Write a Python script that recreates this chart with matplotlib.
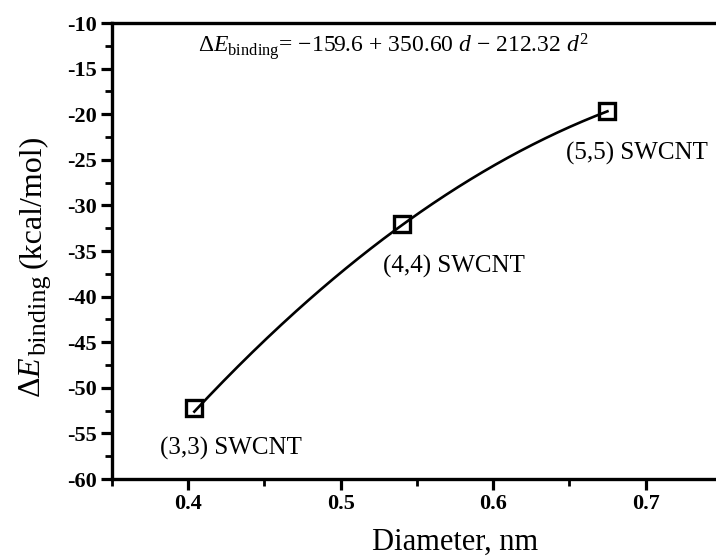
import numpy as np
import matplotlib
matplotlib.use("Agg")
import matplotlib.pyplot as plt
from matplotlib.ticker import MultipleLocator

# data
diameter = [0.404, 0.540, 0.675]          # nm
e_binding = [-52.2, -32.0, -19.6]         # kcal/mol
tube_names = ["(3,3) SWCNT", "(4,4) SWCNT", "(5,5) SWCNT"]
fit_coef = [-212.32, 350.60, -159.6]      # quadratic shown in the figure
x_ticks = [0.4, 0.5, 0.6, 0.7]
y_ticks = list(range(-60, -9, 5))

plt.rcParams["font.family"] = ["Liberation Serif", "DejaVu Serif"]
plt.rcParams["mathtext.fontset"] = "custom"
plt.rcParams["mathtext.rm"] = "Liberation Serif"
plt.rcParams["mathtext.it"] = "Liberation Serif:italic"

W, H = 716, 560


def main():
    fig = plt.figure(figsize=(W / 100, H / 100), dpi=100)
    ax = fig.add_axes([112 / W, 1 - 479 / H, (798 - 112) / W, (479 - 23) / H])

    d = np.linspace(diameter[0], diameter[-1], 200)
    ax.plot(d, np.polyval(fit_coef, d), color="black", lw=1.9)
    ax.plot(diameter, e_binding, ls="none", marker="s", ms=11.5, mfc="none",
            mec="black", mew=2.4)

    ax.text(0.3814, -56.6, tube_names[0], fontsize=18, ha="left", va="center")
    ax.text(0.528, -36.7, tube_names[1], fontsize=18, ha="left", va="center")
    ax.text(0.648, -24.3, tube_names[2], fontsize=18, ha="left", va="center")

    ax.text(0.4063, -12.6,
            r"$\Delta E_{\rm binding}$= " + "\u2212159.6 + 350.60 "
            + r"$d$" + " \u2212 212.32 " + r"$d^2$",
            fontsize=17, ha="left", va="center")

    ax.set_xlim(0.35, 0.80)
    ax.set_ylim(-60, -10)
    ax.xaxis.set_minor_locator(MultipleLocator(0.05))
    ax.yaxis.set_minor_locator(MultipleLocator(2.5))
    ax.set_xticks(x_ticks)
    ax.set_xticklabels([f"{v:.1f}" for v in x_ticks])
    ax.set_yticks(y_ticks)
    ax.set_yticklabels([str(v) for v in y_ticks])

    ax.tick_params(which="major", direction="out", length=8, width=2.3,
                   labelsize=16, pad=3)
    ax.tick_params(which="minor", direction="out", length=5, width=2.0)
    for lab in ax.get_xticklabels() + ax.get_yticklabels():
        lab.set_fontweight("bold")
    for sp in ax.spines.values():
        sp.set_linewidth(2.4)

    ax.set_xlabel("Diameter, nm", fontsize=22, labelpad=10)

    # y label built from pieces so the subscript can be sized separately
    r = fig.canvas.get_renderer()
    kw = dict(rotation=90, rotation_mode="anchor", ha="left", va="baseline")
    y0 = H - 398
    t1 = fig.text(40 / W, y0 / H, r"$\Delta E$", fontsize=23, **kw)
    y0 += t1.get_window_extent(r).height
    t2 = fig.text(46 / W, y0 / H, "binding", fontsize=19, **kw)
    y0 += t2.get_window_extent(r).height + 8
    fig.text(40 / W, y0 / H, "(kcal/mol)", fontsize=23, **kw)

    fig.savefig("out.png", dpi=100)
    plt.close(fig)


if __name__ == "__main__":
    main()
